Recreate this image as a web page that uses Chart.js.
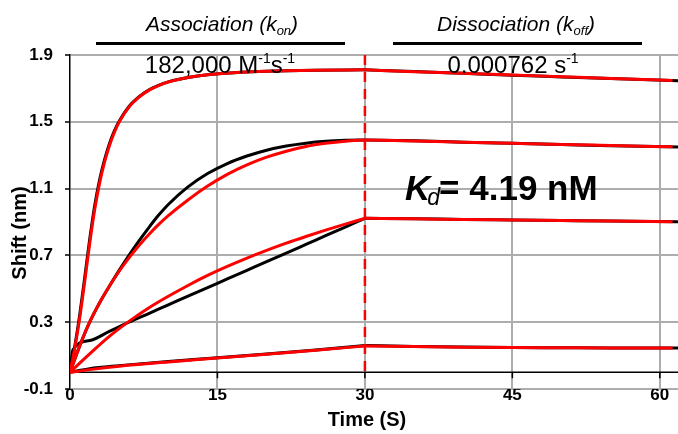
<!DOCTYPE html>
<html>
<head>
<meta charset="utf-8">
<script src="https://cdn.jsdelivr.net/npm/chart.js@4.4.1/dist/chart.umd.min.js"></script>
<style>
  html, body { margin: 0; padding: 0; background: #fff; }
  canvas { display: block; }
</style>
</head>
<body>
<canvas id="kinetics" width="678" height="434"></canvas>
<script>
// axis ticks
const xTicks = [0, 15, 30, 45, 60];
const yTicks = [-0.1, 0.3, 0.7, 1.1, 1.5, 1.9];
const stepTime = 30;

// association phase, curve 1 (highest concentration)
const assocT1 = [0, 0.5, 1, 1.5, 2, 2.5, 3, 3.5, 4, 4.5, 5, 6, 7, 8, 9, 10, 12, 14, 17, 20, 25, 30];
const assocData1 = [0, 0.16, 0.35, 0.57, 0.795, 0.995, 1.15, 1.27, 1.367, 1.444, 1.504, 1.592, 1.649, 1.69, 1.718, 1.739, 1.765, 1.782, 1.795, 1.803, 1.809, 1.811];
const assocFit1 = [0, 0.15, 0.33, 0.545, 0.77, 0.97, 1.13, 1.255, 1.355, 1.435, 1.498, 1.588, 1.646, 1.688, 1.717, 1.738, 1.765, 1.782, 1.795, 1.803, 1.809, 1.811];

// curve 2
const assocT2 = [0, 1, 2, 3, 4, 5, 6, 7, 8, 9, 10, 12, 14, 16, 18, 20, 22, 24, 26, 28, 30];
const assocData2 = [0, 0.16, 0.3, 0.415, 0.515, 0.61, 0.7, 0.785, 0.865, 0.94, 1.005, 1.11, 1.19, 1.25, 1.295, 1.33, 1.355, 1.372, 1.383, 1.389, 1.391];
const assocFit2 = [0, 0.16, 0.3, 0.415, 0.515, 0.605, 0.685, 0.758, 0.824, 0.884, 0.938, 1.032, 1.115, 1.185, 1.242, 1.288, 1.324, 1.352, 1.371, 1.384, 1.391];

// curve 3
const assocT3data = [0, 0.3, 2, 4, 6, 8, 10, 12, 14, 16, 18, 20, 22, 24, 26, 28, 30];
const assocData3 = [0, 0.135, 0.19, 0.245, 0.3, 0.352, 0.404, 0.456, 0.507, 0.559, 0.611, 0.663, 0.714, 0.766, 0.818, 0.87, 0.922];
const assocT3fit = [0, 2, 4, 6, 8, 10, 12, 14, 16, 18, 20, 22, 24, 26, 28, 30];
const assocFit3 = [0, 0.11, 0.215, 0.305, 0.385, 0.455, 0.52, 0.58, 0.634, 0.684, 0.73, 0.773, 0.813, 0.851, 0.887, 0.922];

// curve 4 (lowest concentration)
const assocT4 = [0, 2, 5, 10, 15, 20, 25, 30];
const assocData4 = [0, 0.022, 0.04, 0.065, 0.087, 0.11, 0.134, 0.16];
const assocFit4 = [0, 0.016, 0.036, 0.062, 0.085, 0.108, 0.132, 0.158];

// dissociation phase
const dissocTdata = [30, 35, 40, 45, 50, 55, 61.85];
const dissocTfit = [30, 35, 40, 45, 50, 55, 61.3];
const dissocData1 = [1.811, 1.801, 1.79, 1.779, 1.769, 1.759, 1.746];
const dissocFit1 = [1.811, 1.8, 1.79, 1.78, 1.77, 1.76, 1.748];
const dissocData2 = [1.391, 1.386, 1.378, 1.371, 1.364, 1.357, 1.349];
const dissocFit2 = [1.391, 1.385, 1.378, 1.371, 1.364, 1.358, 1.35];
const dissocData3 = [0.922, 0.92, 0.915, 0.912, 0.909, 0.906, 0.901];
const dissocFit3 = [0.922, 0.919, 0.915, 0.912, 0.909, 0.906, 0.902];
const dissocData4 = [0.16, 0.155, 0.151, 0.148, 0.147, 0.146, 0.146];
const dissocFit4 = [0.158, 0.154, 0.15, 0.148, 0.147, 0.146, 0.146];

const FONT = '"Liberation Sans", Arial, Helvetica, sans-serif';
const gridGray = "#adadad";

const pts = (ts, vs) => ts.map((t, i) => ({ x: t, y: vs[i] }));

const trace = (ts, vs, color, order) => ({
  data: pts(ts, vs),
  borderColor: color,
  borderWidth: 3,
  pointRadius: 0,
  fill: false,
  cubicInterpolationMode: "monotone",
  order: order,
});

const fitRed = "#ff0000";
const dataBlack = "#000000";

const datasets = [
  trace(assocT1, assocFit1, fitRed, 1),
  trace(assocT2, assocFit2, fitRed, 1),
  trace(assocT3fit, assocFit3, fitRed, 1),
  trace(assocT4, assocFit4, fitRed, 1),
  trace(dissocTfit, dissocFit1, fitRed, 1),
  trace(dissocTfit, dissocFit2, fitRed, 1),
  trace(dissocTfit, dissocFit3, fitRed, 1),
  trace(dissocTfit, dissocFit4, fitRed, 1),
  trace(assocT1, assocData1, dataBlack, 2),
  trace(assocT2, assocData2, dataBlack, 2),
  trace(assocT3data, assocData3, dataBlack, 2),
  trace(assocT4, assocData4, dataBlack, 2),
  trace(dissocTdata, dissocData1, dataBlack, 2),
  trace(dissocTdata, dissocData2, dataBlack, 2),
  trace(dissocTdata, dissocData3, dataBlack, 2),
  trace(dissocTdata, dissocData4, dataBlack, 2),
  // association/dissociation switch
  {
    data: [{ x: stepTime, y: 1.9 }, { x: stepTime, y: 0 }],
    borderColor: fitRed,
    borderWidth: 2.5,
    borderDash: [10, 7],
    pointRadius: 0,
    order: 0,
  },
];

// rich text helper: pieces with their own font and baseline shift
function drawRich(ctx, parts, x, y, align) {
  let total = 0;
  parts.forEach((p) => {
    ctx.font = p.font;
    p.w = ctx.measureText(p.text).width;
    total += p.w + (p.dx || 0);
  });
  let cx = align === "center" ? x - total / 2 : x;
  parts.forEach((p) => {
    cx += p.dx || 0;
    ctx.font = p.font;
    ctx.fillText(p.text, cx, y + (p.dy || 0));
    cx += p.w;
  });
}

const zeroAxis = {
  id: "zeroAxis",
  beforeDatasetsDraw(chart) {
    const { ctx, chartArea, scales } = chart;
    const y0 = scales.y.getPixelForValue(0);
    ctx.save();
    ctx.strokeStyle = "#000";
    ctx.lineWidth = 1.5;
    ctx.beginPath();
    ctx.moveTo(chartArea.left, y0);
    ctx.lineTo(chartArea.right, y0);
    xTicks.forEach((v) => {
      if (v === 0) return;
      const px = scales.x.getPixelForValue(v);
      ctx.moveTo(px, y0);
      ctx.lineTo(px, y0 + 6);
    });
    ctx.stroke();
    ctx.restore();
  },
};

const annotations = {
  id: "annotations",
  afterDraw(chart) {
    const ctx = chart.ctx;
    ctx.save();
    ctx.fillStyle = "#000";
    ctx.textAlign = "left";
    ctx.textBaseline = "alphabetic";

    // phase headers
    drawRich(ctx, [
      { text: "Association (k", font: `italic 21px ${FONT}` },
      { text: "on", font: `italic 13px ${FONT}`, dy: 4 },
      { text: ")", font: `italic 21px ${FONT}` },
    ], 222, 31, "center");
    drawRich(ctx, [
      { text: "Dissociation (k", font: `italic 21px ${FONT}` },
      { text: "off", font: `italic 13px ${FONT}`, dy: 4 },
      { text: ")", font: `italic 21px ${FONT}` },
    ], 516, 31, "center");
    ctx.fillRect(96, 42, 249, 3);
    ctx.fillRect(393, 42, 249, 3);

    // rate constants
    drawRich(ctx, [
      { text: "182,000 M", font: `24px ${FONT}` },
      { text: "-1", font: `14px ${FONT}`, dy: -10 },
      { text: "s", font: `24px ${FONT}` },
      { text: "-1", font: `14px ${FONT}`, dy: -10 },
    ], 220, 73, "center");
    drawRich(ctx, [
      { text: "0.000762 s", font: `24px ${FONT}` },
      { text: "-1", font: `14px ${FONT}`, dy: -10 },
    ], 513, 73, "center");

    // Kd
    drawRich(ctx, [
      { text: "K", font: `italic bold 35px ${FONT}` },
      { text: "d", font: `italic 23px ${FONT}`, dy: 5, dx: -3 },
      { text: "= 4.19 nM", font: `bold 35px ${FONT}`, dx: -1 },
    ], 405, 200, "left");

    // axis titles
    ctx.font = `bold 20px ${FONT}`;
    ctx.textAlign = "center";
    ctx.textBaseline = "middle";
    ctx.fillText("Time (S)", 367, 420);
    ctx.translate(20, 233);
    ctx.rotate(-Math.PI / 2);
    ctx.fillText("Shift (nm)", 0, 0);
    ctx.restore();
  },
};

new Chart(document.getElementById("kinetics"), {
  type: "line",
  data: { datasets },
  options: {
    responsive: false,
    animation: false,
    devicePixelRatio: 1,
    layout: { padding: { top: 55, left: 0, right: 0, bottom: 0 } },
    plugins: { legend: { display: false }, tooltip: { enabled: false } },
    scales: {
      x: {
        type: "linear",
        min: 0,
        max: 61.85,
        afterBuildTicks: (s) => { s.ticks = xTicks.map((v) => ({ value: v })); },
        afterFit: (s) => { s.height = 45; },
        grid: {
          color: (c) => (c.tick && c.tick.value === 0 ? "rgba(0,0,0,0)" : gridGray),
          lineWidth: 2,
          drawTicks: false,
        },
        border: { display: false },
        ticks: {
          color: "#000",
          padding: -4,
          maxRotation: 0,
          font: { family: FONT, size: 17, weight: "bold" },
        },
      },
      y: {
        type: "linear",
        min: -0.1,
        max: 1.9,
        afterBuildTicks: (s) => { s.ticks = yTicks.map((v) => ({ value: v })); },
        afterFit: (s) => { s.width = 70; },
        grid: {
          color: gridGray,
          lineWidth: 2,
          tickColor: "#000",
          tickLength: 5,
          tickWidth: 1.5,
        },
        border: { color: "#000", width: 1.5 },
        ticks: {
          color: "#000",
          padding: 12,
          callback: (v) => v.toFixed(1),
          font: { family: FONT, size: 17, weight: "bold" },
        },
      },
    },
  },
  plugins: [zeroAxis, annotations],
});
</script>
</body>
</html>
